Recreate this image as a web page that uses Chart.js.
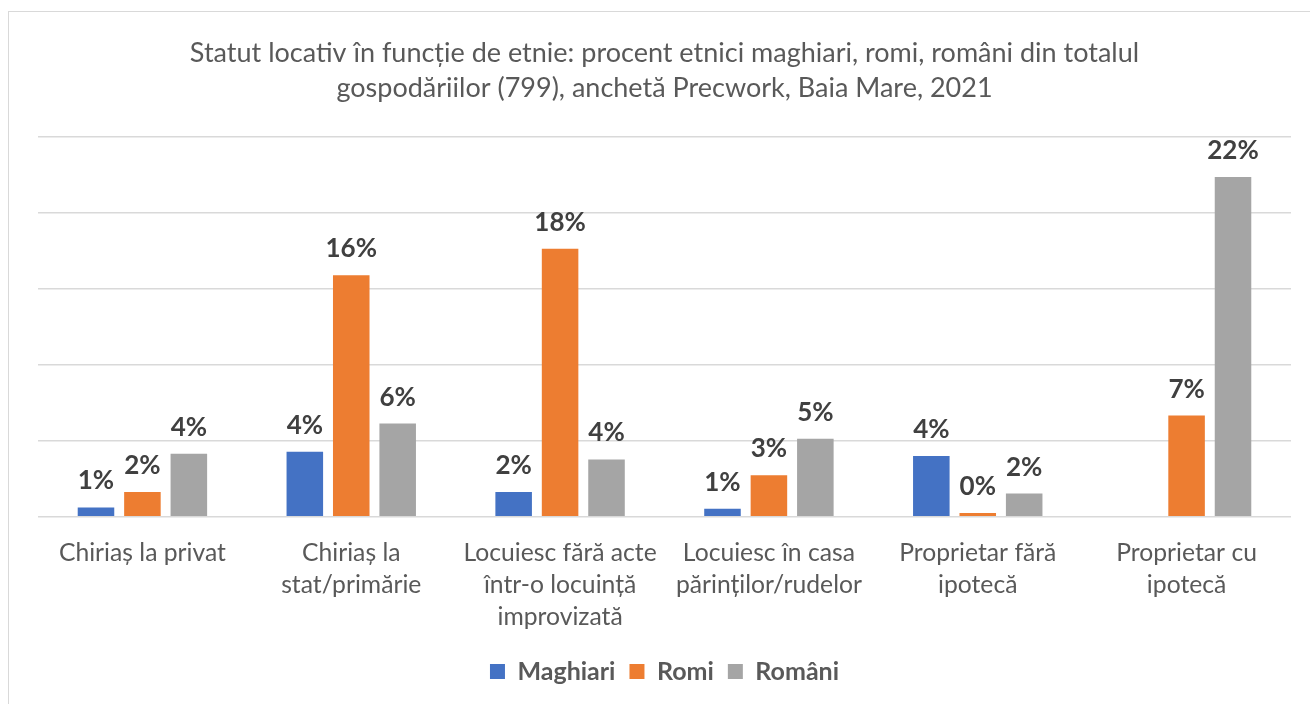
<!DOCTYPE html>
<html>
<head>
<meta charset="utf-8">
<script src="https://cdn.jsdelivr.net/npm/chart.js@4.4.1/dist/chart.umd.min.js"></script>
<style>
  html, body { margin: 0; padding: 0; background: #ffffff; }
  #wrap { position: relative; width: 1310px; height: 704px; }
</style>
</head>
<body>
<div id="wrap"><canvas id="c" width="1310" height="704"></canvas></div>
<script>
const titleLines = [
  "Statut locativ în funcție de etnie: procent etnici maghiari, romi, români din totalul",
  "gospodăriilor (799), anchetă Precwork, Baia Mare, 2021"
];
const categories = [
  "Chiriaș la privat",
  ["Chiriaș la", "stat/primărie"],
  ["Locuiesc fără acte", "într-o locuință", "improvizată"],
  ["Locuiesc în casa", "părinților/rudelor"],
  ["Proprietar fără", "ipotecă"],
  ["Proprietar cu", "ipotecă"]
];
const seriesNames = ["Maghiari", "Romi", "Români"];
const maghiari = [0.61, 4.27, 1.62, 0.52, 4.0, null];
const romi = [1.62, 15.9, 17.65, 2.73, 0.24, 6.66];
const romani = [4.14, 6.13, 3.77, 5.14, 1.52, 22.38];
const colors = ["#4472C4", "#ED7D31", "#A5A5A5"];
const yTicks = [0, 5, 10, 15, 20, 25];

const FONT = "Lato, 'Open Sans', sans-serif";

const borderPlugin = {
  id: 'frame',
  beforeDraw(chart) {
    const ctx = chart.ctx;
    ctx.save();
    ctx.fillStyle = '#ffffff';
    ctx.fillRect(0, 0, chart.width, chart.height);
    ctx.strokeStyle = '#d9d9d9';
    ctx.lineWidth = 1;
    ctx.strokeRect(8.5, 11.5, 1400, 800);
    ctx.restore();
  }
};

const labelPlugin = {
  id: 'valueLabels',
  afterDatasetsDraw(chart) {
    const ctx = chart.ctx;
    ctx.save();
    ctx.font = "bold 26px " + FONT;
    ctx.fillStyle = '#404040';
    ctx.textAlign = 'center';
    ctx.textBaseline = 'alphabetic';
    chart.data.datasets.forEach((ds, i) => {
      const meta = chart.getDatasetMeta(i);
      meta.data.forEach((el, j) => {
        const v = ds.data[j];
        if (v === null || v === undefined) return;
        ctx.fillText(Math.round(v) + '%', el.x, el.y - 18);
      });
    });
    ctx.restore();
  }
};

new Chart(document.getElementById('c'), {
  type: 'bar',
  data: {
    labels: categories,
    datasets: [
      { label: seriesNames[0], data: maghiari, backgroundColor: colors[0] },
      { label: seriesNames[1], data: romi, backgroundColor: colors[1] },
      { label: seriesNames[2], data: romani, backgroundColor: colors[2] }
    ]
  },
  options: {
    responsive: false,
    devicePixelRatio: 1,
    animation: false,
    layout: { padding: { left: 38, right: 19, top: 14, bottom: 10 } },
    datasets: { bar: { categoryPercentage: 0.667, barPercentage: 0.787 } },
    scales: {
      x: {
        grid: { display: false },
        border: { display: false },
        ticks: {
          color: '#595959',
          font: { family: FONT, size: 24.7, lineHeight: 1.3 },
          padding: 12,
          maxRotation: 0,
          autoSkip: false
        }
      },
      y: {
        min: 0, max: 25,
        afterBuildTicks(axis) { axis.ticks = yTicks.map(v => ({ value: v })); },
        grid: { color: '#d9d9d9', lineWidth: 1.5, drawTicks: false },
        border: { display: false },
        ticks: { display: false }
      }
    },
    plugins: {
      title: {
        display: true,
        text: titleLines,
        color: '#595959',
        font: { family: FONT, size: 27, weight: 'normal', lineHeight: 1.3 },
        padding: { top: 22, bottom: 31 }
      },
      legend: {
        position: 'bottom',
        labels: {
          color: '#595959',
          font: { family: FONT, size: 25, weight: 'bold' },
          boxWidth: 15, boxHeight: 15,
          padding: 14
        }
      },
      tooltip: { enabled: false }
    }
  },
  plugins: [borderPlugin, labelPlugin]
});
</script>
</body>
</html>
